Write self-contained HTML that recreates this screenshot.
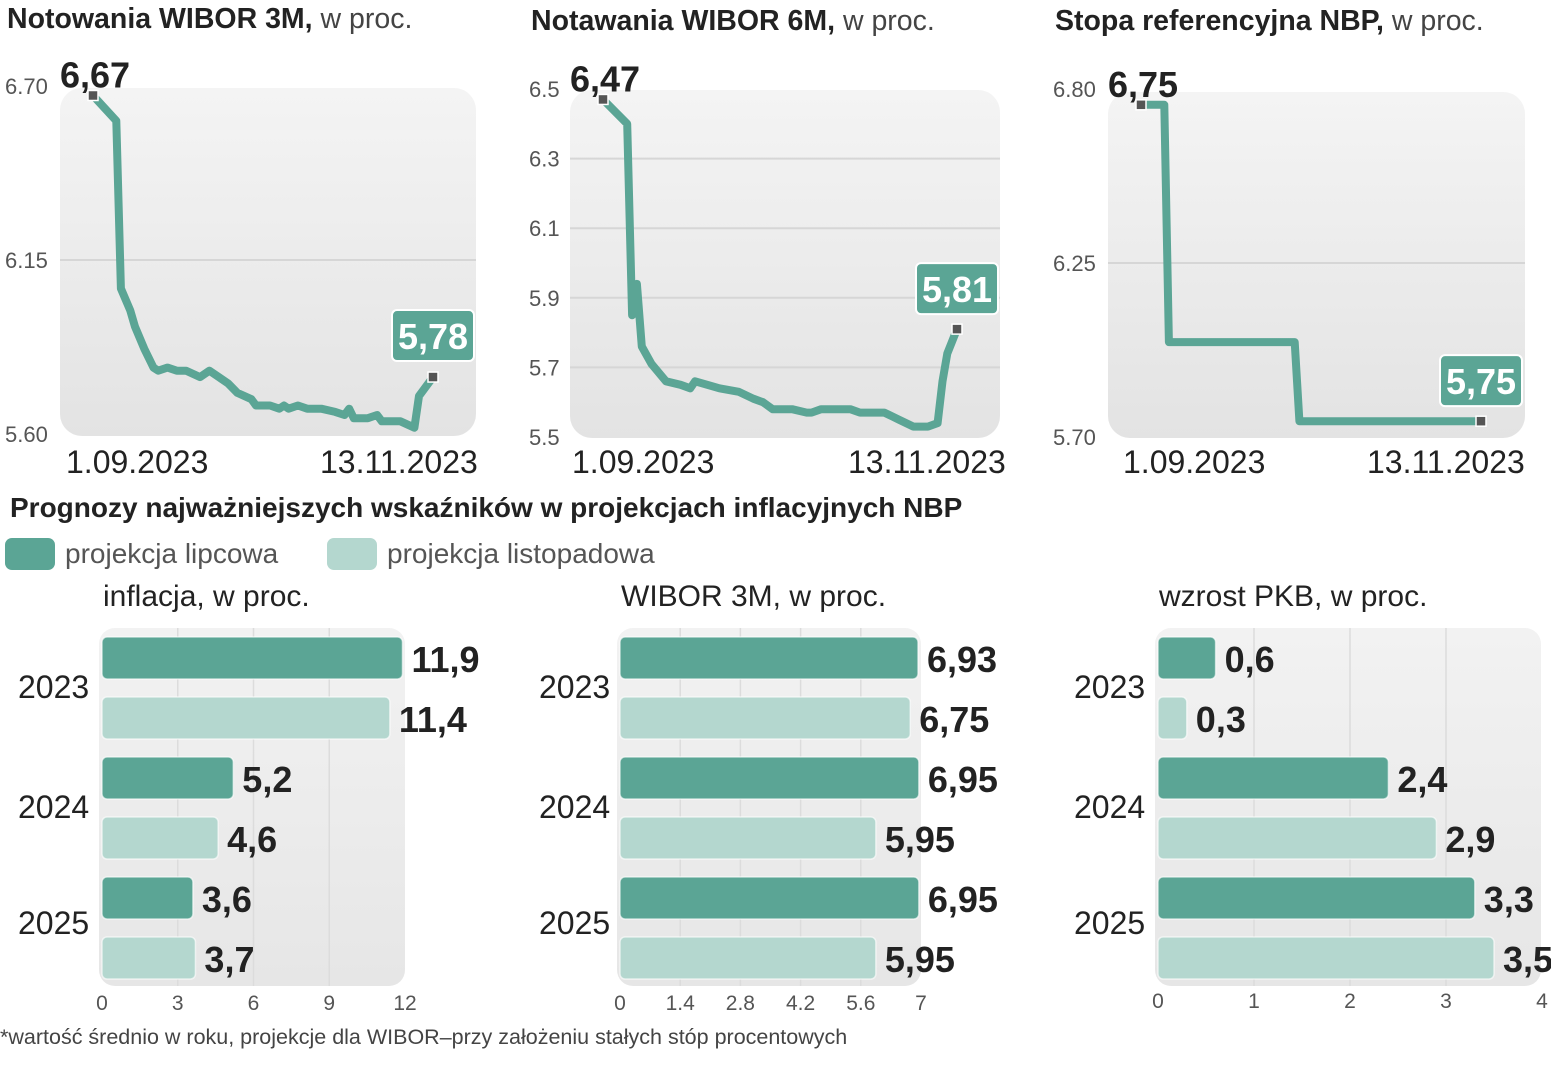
<!DOCTYPE html>
<html><head><meta charset="utf-8">
<style>
html,body{margin:0;padding:0;background:#fff;}
svg{display:block;font-family:"Liberation Sans",sans-serif;}
.num{font-family:"Liberation Sans Narrow","Liberation Sans",sans-serif;font-weight:bold;}
</style></head>
<body>
<svg id="root" width="1551" height="1080" viewBox="0 0 1551 1080" xmlns="http://www.w3.org/2000/svg">
<defs>
<linearGradient id="pg" x1="0" y1="0" x2="0" y2="1"><stop offset="0" stop-color="#f4f4f4"/><stop offset="1" stop-color="#e3e3e3"/></linearGradient>
<linearGradient id="bg" x1="0" y1="0" x2="0" y2="1"><stop offset="0" stop-color="#f2f2f2"/><stop offset="1" stop-color="#e6e6e6"/></linearGradient>
</defs>
<g><text x="7" y="28" font-size="28.5" fill="#222"><tspan font-weight="bold">Notowania WIBOR 3M,</tspan><tspan fill="#444"> w proc.</tspan></text></g>
<g><text x="531" y="30" font-size="28.5" fill="#222"><tspan font-weight="bold">Notawania WIBOR 6M,</tspan><tspan fill="#444"> w proc.</tspan></text></g>
<g><text x="1055" y="30" font-size="28.5" fill="#222"><tspan font-weight="bold">Stopa referencyjna NBP,</tspan><tspan fill="#444"> w proc.</tspan></text></g>
<text x="10" y="517" font-size="28" font-weight="bold" fill="#222">Prognozy najważniejszych wskaźników w projekcjach inflacyjnych NBP</text>
<g>
<rect x="5" y="538" width="50" height="32" rx="7" fill="#5ba595"/>
<text x="65" y="563" font-size="28" fill="#555">projekcja lipcowa</text>
<rect x="327" y="538" width="50" height="32" rx="7" fill="#b4d7cf"/>
<text x="387" y="563" font-size="28" fill="#555">projekcja listopadowa</text>
</g>
<text x="0" y="1044" font-size="21.5" fill="#444">*wartość średnio w roku, projekcje dla WIBOR–przy założeniu stałych stóp procentowych</text>
</svg>
<script>
// ===== line chart data =====
const w3Days = [0,5,6,8,9,11,13,14,16,18,20,23,25,27,29,31,34,35,38,40,41,42,44,46,49,52,54,55,56,59,61,62,66,69,70,73];
const w3Vals = [6.67,6.59,6.06,5.99,5.94,5.87,5.81,5.80,5.81,5.80,5.80,5.78,5.80,5.78,5.76,5.73,5.71,5.69,5.69,5.68,5.69,5.68,5.69,5.68,5.68,5.67,5.66,5.68,5.65,5.65,5.66,5.64,5.64,5.62,5.72,5.78];
const w3Ticks = [6.70,6.15,5.60];
const w6Days = [0,5,6,7,8,10,13,16,18,19,24,28,31,33,35,39,42,43,45,51,53,58,61,64,67,69,70,71,73];
const w6Vals = [6.47,6.40,5.85,5.94,5.76,5.71,5.66,5.65,5.64,5.66,5.64,5.63,5.61,5.60,5.58,5.58,5.57,5.57,5.58,5.58,5.57,5.57,5.55,5.53,5.53,5.54,5.66,5.74,5.81];
const w6Ticks = [6.5,6.3,6.1,5.9,5.7,5.5];
const nbpDays = [0,5,6,33,34,73];
const nbpVals = [6.75,6.75,6.00,6.00,5.75,5.75];
const nbpTicks = [6.80,6.25,5.70];
const dateLabels = ["1.09.2023","13.11.2023"];

// ===== bar chart data =====
const years = ["2023","2024","2025"];
const inflJuly = [11.9,5.2,3.6];
const inflNov = [11.4,4.6,3.7];
const inflTicks = [0,3,6,9,12];
const wiborJuly = [6.93,6.95,6.95];
const wiborNov = [6.75,5.95,5.95];
const wiborTicks = [0,1.4,2.8,4.2,5.6,7];
const gdpJuly = [0.6,2.4,3.3];
const gdpNov = [0.3,2.9,3.5];
const gdpTicks = [0,1,2,3,4];

const NS="http://www.w3.org/2000/svg";
const root=document.getElementById('root');
const GREEN="#5ba595", LIGHT="#b4d7cf";
function mk(tag,attrs,parent){const e=document.createElementNS(NS,tag);for(const k in attrs)e.setAttribute(k,attrs[k]);(parent||root).appendChild(e);return e;}
function fmt(v,dec){return v.toFixed(dec).replace('.',',');}

function lineChart(cfg){
  const g=mk('g',{});
  
  
  const p=mk('rect',{x:cfg.px,y:cfg.py,width:cfg.pw,height:cfg.ph,rx:22,fill:'url(#pg)'},g);
  
  
  const y=v=>cfg.y0+(cfg.vmax-v)/(cfg.vmax-cfg.vmin)*(cfg.y1-cfg.y0);
  const x=d=>cfg.x0+d/73*(cfg.x1-cfg.x0);
  cfg.ticks.forEach((t,i)=>{
    if(i>0&&i<cfg.ticks.length-1){const gl=mk('line',{x1:cfg.px,x2:cfg.px+cfg.pw,y1:y(t),y2:y(t),stroke:'#d6d6d6','stroke-width':2},g);
      
      }
    const tl=mk('text',{x:cfg.tx,y:y(t)+8,'font-size':22,fill:'#555'},g);
    tl.textContent=t.toFixed(cfg.tdec);
    
    
  });
  let d='';
  cfg.days.forEach((dd,i)=>{d+=(i?'L':'M')+x(dd).toFixed(1)+','+y(cfg.vals[i]).toFixed(1);});
  const path=mk('path',{d:d,fill:'none',stroke:GREEN,'stroke-width':8,'stroke-linejoin':'round','stroke-linecap':'round'},g);
  
  
  const n=cfg.vals.length-1;
  [[0,'start-marker'],[n,'end-marker']].forEach(([i,nm])=>{
    const m=mk('rect',{x:x(cfg.days[i])-5,y:y(cfg.vals[i])-5,width:10,height:10,fill:'#555',stroke:'#fff','stroke-width':1.5},g);
    
    
  });
  const st=mk('text',{x:x(cfg.days[0])-33,y:y(cfg.vals[0])-8,'font-size':36,class:'num',fill:'#222'},g);
  st.textContent=fmt(cfg.vals[0],2);
  
  
  const bx=cfg.boxX, by=y(cfg.vals[n])-cfg.boxOff;
  const b=mk('rect',{x:bx,y:by,width:82,height:51,rx:5,fill:GREEN,stroke:'#fff','stroke-width':2},g);
  
  
  const et=mk('text',{x:bx+41,y:by+39,'font-size':36,class:'num',fill:'#fff','text-anchor':'middle'},g);
  et.textContent=fmt(cfg.vals[n],2);
  
  
  dateLabels.forEach((lb,i)=>{
    const dl=mk('text',{x:cfg.dx[i],y:473,'font-size':32,fill:'#222'},g);
    dl.textContent=lb;
    
    
  });
}
lineChart({name:'wibor3m-chart',px:60,py:88,pw:416,ph:348,y0:86,y1:434,vmax:6.70,vmin:5.60,x0:93,x1:433,ticks:w3Ticks,tdec:2,tx:5,days:w3Days,vals:w3Vals,boxX:392,boxOff:67,dx:[66,320]});
lineChart({name:'wibor6m-chart',px:570,py:90,pw:430,ph:348,y0:89,y1:437,vmax:6.5,vmin:5.5,x0:603,x1:957,ticks:w6Ticks,tdec:1,tx:529,days:w6Days,vals:w6Vals,boxX:916,boxOff:66,dx:[572,848]});
lineChart({name:'nbp-rate-chart',px:1108,py:92,pw:417,ph:346,y0:89,y1:437,vmax:6.80,vmin:5.70,x0:1141,x1:1481,ticks:nbpTicks,tdec:2,tx:1053,days:nbpDays,vals:nbpVals,boxX:1440,boxOff:66,dx:[1123,1367]});

function barChart(cfg){
  const g=mk('g',{});
  
  
  const tmax=cfg.ticks[cfg.ticks.length-1];
  const x=v=>cfg.x0+v/tmax*(cfg.x1-cfg.x0);
  const p=mk('rect',{x:cfg.x0-3,y:628,width:cfg.pw,height:358,rx:16,fill:'url(#bg)'},g);
  
  
  cfg.ticks.forEach(t=>{
    if(t>0&&t<tmax){const gl=mk('line',{x1:x(t),x2:x(t),y1:628,y2:986,stroke:'#dcdcdc','stroke-width':1.5},g);
      
      }
    const tl=mk('text',{x:x(t),y:cfg.ty,'font-size':21,fill:'#555','text-anchor':'middle'},g);
    tl.textContent=String(t);
    
    
  });
  const tt=mk('text',{x:cfg.x0+1,y:606,'font-size':30,fill:'#222'},g);
  tt.textContent=cfg.title;
  
  
  const yl=[698,818,934];
  years.forEach((yr,i)=>{
    const t=mk('text',{x:cfg.yx,y:yl[i],'font-size':32,fill:'#222'},g);
    t.textContent=yr;
    
    
    [[cfg.july[i],GREEN,637+i*120,'july'],[cfg.nov[i],LIGHT,697+i*120,'november']].forEach(([v,c,by,s])=>{
      const r=mk('rect',{x:cfg.x0,y:by,width:Math.max(x(v)-cfg.x0,1),height:42,rx:5,fill:c,stroke:'#fff','stroke-opacity':0.6,'stroke-width':1.5},g);
      
      
      const vl=mk('text',{x:x(v)+9,y:by+35,'font-size':36,class:'num',fill:'#222'},g);
      vl.textContent=fmt(v,cfg.dec);
      
      
    });
  });
}
barChart({name:'inflation-chart',title:'inflacja, w proc.',x0:102,x1:405,pw:306,ticks:inflTicks,ty:1010,yx:18,july:inflJuly,nov:inflNov,dec:1});
barChart({name:'wibor3m-projection-chart',title:'WIBOR 3M, w proc.',x0:620,x1:921,pw:304,ticks:wiborTicks,ty:1010,yx:539,july:wiborJuly,nov:wiborNov,dec:2});
barChart({name:'gdp-chart',title:'wzrost PKB, w proc.',x0:1158,x1:1542,pw:386,ticks:gdpTicks,ty:1008,yx:1074,july:gdpJuly,nov:gdpNov,dec:1});
</script>
</body></html>
